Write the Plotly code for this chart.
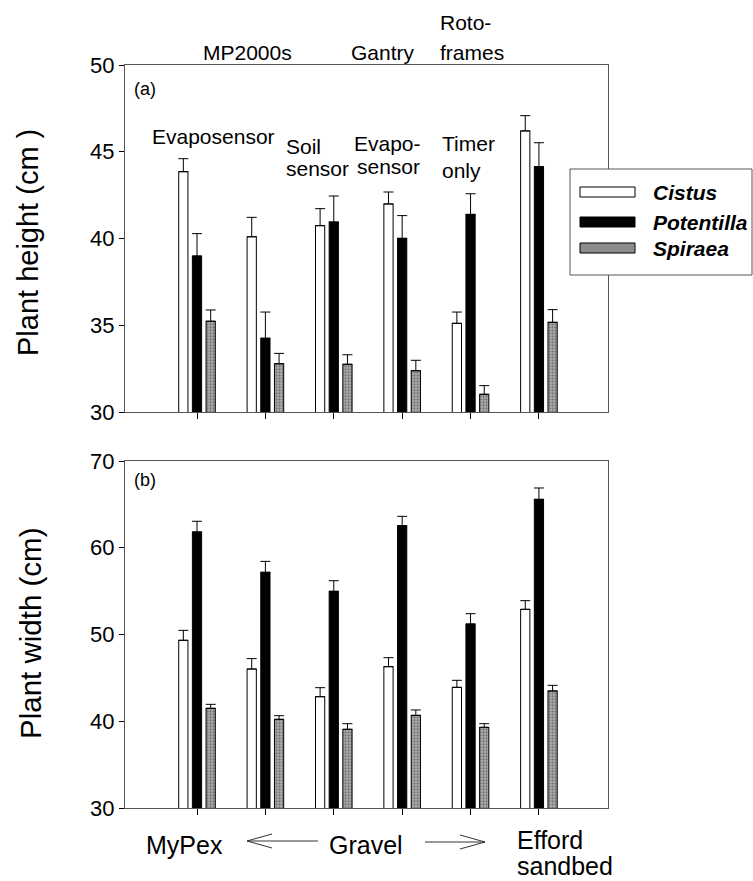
import plotly.graph_objects as go

# ---------------- data ----------------
groups = [0, 1, 2, 3, 4, 5]
species = ["Cistus", "Potentilla", "Spiraea"]

height_cistus = [43.85, 40.10, 40.74, 41.99, 35.11, 46.20]
height_cistus_se = [0.75, 1.12, 0.98, 0.69, 0.65, 0.88]
height_potentilla = [38.99, 34.25, 40.95, 40.01, 41.39, 44.14]
height_potentilla_se = [1.29, 1.51, 1.50, 1.31, 1.19, 1.38]
height_spiraea = [35.23, 32.78, 32.75, 32.38, 31.02, 35.17]
height_spiraea_se = [0.65, 0.60, 0.55, 0.60, 0.50, 0.73]

width_cistus = [49.33, 46.02, 42.83, 46.29, 43.91, 52.90]
width_cistus_se = [1.15, 1.20, 1.04, 1.04, 0.81, 1.00]
width_potentilla = [61.82, 57.17, 54.98, 62.54, 51.21, 65.58]
width_potentilla_se = [1.23, 1.26, 1.22, 1.08, 1.19, 1.31]
width_spiraea = [41.49, 40.22, 39.07, 40.68, 39.30, 43.49]
width_spiraea_se = [0.46, 0.42, 0.65, 0.62, 0.42, 0.65]

height_ticks = [30, 35, 40, 45, 50]
width_ticks = [30, 40, 50, 60, 70]

# ---------------- geometry helpers ----------------
W, H = 753, 881
L, R, T, B = 125, 608, 65, 808


def px(x):
    return (x - L) / (R - L)


def py(y):
    return (B - y) / (B - T)


FONT = "Liberation Sans, Arial, sans-serif"
BAR_W = 0.135
OFFS = [-0.2, 0.0, 0.2]

styles = [
    dict(color="white", line=dict(color="black", width=1)),
    dict(color="black", line=dict(color="black", width=1)),
    dict(color="#9a9a9a", line=dict(color="black", width=1),
         pattern=dict(shape=".", fgcolor="#3a3a3a", bgcolor="#b0b0b0", size=3, solidity=0.45)),
]

fig = go.Figure()

panels = [
    ("y", [height_cistus, height_potentilla, height_spiraea],
     [height_cistus_se, height_potentilla_se, height_spiraea_se]),
    ("y2", [width_cistus, width_potentilla, width_spiraea],
     [width_cistus_se, width_potentilla_se, width_spiraea_se]),
]

for yax, vals, errs in panels:
    xax = "x" if yax == "y" else "x2"
    for i in range(3):
        fig.add_trace(go.Bar(
            x=groups, y=vals[i], name=species[i],
            xaxis=xax, yaxis=yax,
            width=BAR_W, offset=OFFS[i] - BAR_W / 2,
            marker=styles[i],
            error_y=dict(type="data", symmetric=False, array=errs[i],
                         arrayminus=[0] * len(errs[i]),
                         color="black", thickness=1, width=5),
            showlegend=False,
        ))

axis_common = dict(showgrid=False, zeroline=False, showline=True, mirror=True,
                   linecolor="#555555", linewidth=1)
xrange = [-1.053, 6.01]
top_dom = [py(412), 1.0]
bot_dom = [0.0, py(461)]

fig.update_layout(
    width=W, height=H,
    margin=dict(l=L, r=W - R, t=T, b=H - B),
    paper_bgcolor="white", plot_bgcolor="white",
    barmode="overlay",
    font=dict(family=FONT, color="black"),
    xaxis=dict(domain=[0, 1], range=xrange, anchor="y", tickvals=groups,
               ticktext=[""] * 6, ticks="outside", ticklen=6, tickcolor="black",
               **axis_common),
    yaxis=dict(domain=top_dom, range=[30, 50], tickvals=height_ticks,
               ticks="outside", ticklen=5, tickcolor="black",
               tickfont=dict(size=22, family=FONT), **axis_common),
    xaxis2=dict(domain=[0, 1], range=xrange, anchor="y2", tickvals=groups,
                ticktext=[""] * 6, ticks="outside", ticklen=6, tickcolor="black",
                **axis_common),
    yaxis2=dict(domain=bot_dom, range=[30, 70], tickvals=width_ticks,
                ticks="outside", ticklen=5, tickcolor="black",
                tickfont=dict(size=22, family=FONT), **axis_common),
)


def text(t, x, y, size=21, xanchor="center", angle=0, style=None):
    f = dict(size=size, family=FONT, color="black")
    if style:
        f.update(style)
    fig.add_annotation(text=t, x=px(x), y=py(y), xref="paper", yref="paper",
                       showarrow=False, xanchor=xanchor, yanchor="middle",
                       textangle=angle, font=f)


# axis titles
text("Plant height (cm )", 28, 243, size=29, angle=-90)
text("Plant width (cm)", 30, 634, size=29.5, angle=-90)

# panel labels
text("(a)", 132, 89, size=18, xanchor="left")
text("(b)", 132, 480, size=18, xanchor="left")

# top treatment labels
text("Roto-", 438, 23, xanchor="left")
text("frames", 438, 53, xanchor="left")
text("MP2000s", 247, 53)
text("Gantry", 383, 53)
text("Evaposensor", 277, 136, xanchor="right")
text("Soil", 284, 146, xanchor="left")
text("sensor", 284, 168, xanchor="left")
text("Evapo-", 423, 143, xanchor="right")
text("sensor", 422, 167, xanchor="right")
text("Timer", 440, 143, xanchor="left")
text("only", 440, 170, xanchor="left")

# bottom labels
text("MyPex", 184, 845, size=25)
text("Gravel", 366, 845, size=25)
text("Efford", 515, 840, size=25, xanchor="left")
text("sandbed", 515, 866, size=25, xanchor="left")

# arrows (open heads)
arrow_col = "#333333"


def seg(x0, y0, x1, y1):
    fig.add_shape(type="line", xref="paper", yref="paper",
                  x0=px(x0), y0=py(y0), x1=px(x1), y1=py(y1),
                  line=dict(color=arrow_col, width=1))


seg(247, 841, 318, 841)
seg(247, 841, 272, 834)
seg(247, 841, 272, 848)
seg(425, 842, 485, 842)
seg(485, 842, 460, 835)
seg(485, 842, 460, 849)

# legend (drawn)
fig.add_shape(type="rect", xref="paper", yref="paper",
              x0=px(570), x1=px(752), y0=py(275), y1=py(169),
              line=dict(color="#555555", width=1), fillcolor="white", layer="above")
legend_rows = [(192, "white"), (222, "black"), (248, "#8c8c8c")]
for (yc, col), name in zip(legend_rows, species):
    fig.add_shape(type="rect", xref="paper", yref="paper",
                  x0=px(580), x1=px(635), y0=py(yc + 5), y1=py(yc - 5),
                  line=dict(color="black", width=1), fillcolor=col, layer="above")
    text(name, 651, yc, size=21, xanchor="left",
         style=dict(weight="bold", style="italic"))

fig.write_html(
    "out.html",
    config={"displayModeBar": False},
    post_script="document.body.style.margin='0';document.body.style.overflow='hidden';",
)
